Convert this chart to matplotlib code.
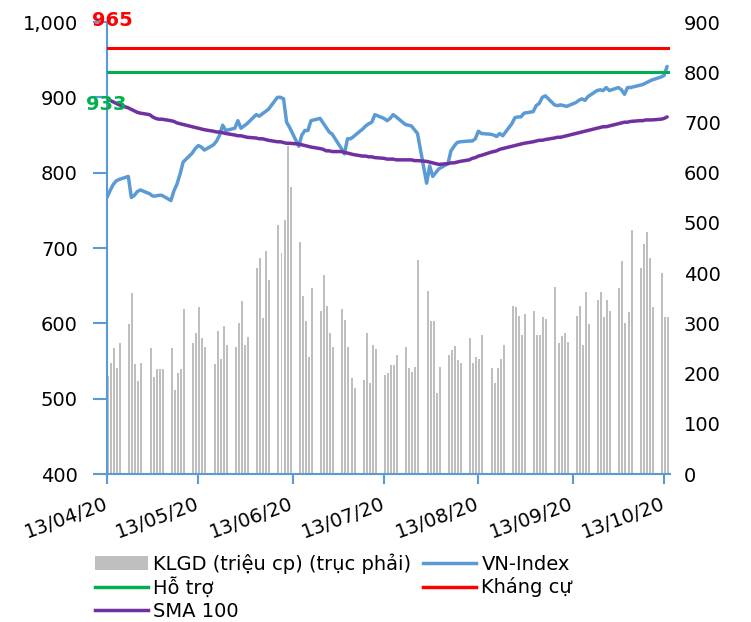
import matplotlib
matplotlib.use("Agg")
import matplotlib.pyplot as plt
from matplotlib.patches import Patch
from matplotlib.lines import Line2D
from matplotlib.ticker import FuncFormatter, FixedLocator
import pandas as pd

plt.rcParams['font.family'] = ['DejaVu Sans']

# ---------------- data ----------------
start_date = "2020-04-13"
end_date = "2020-10-14"
dates = pd.bdate_range(start_date, end_date)

volume = [196, 222, 250, 212, 260,
          299, 360, 219, 185, 222,
          250, 193, 209, 209, 209,
          250, 167, 202, 209, 329,
          260, 281, 332, 270, 252,
          219, 284, 229, 294, 257,
          252, 301, 345, 257, 273,
          410, 431, 311, 445, 387,
          496, 441, 506, 654, 571,
          461, 355, 304, 232, 370,
          325, 397, 335, 280, 252,
          329, 307, 252, 191, 171,
          188, 280, 181, 257, 249,
          198, 201, 218, 218, 236,
          252, 212, 204, 214, 427,
          365, 304, 304, 161, 214,
          236, 247, 255, 226, 222,
          270, 222, 232, 229, 277,
          212, 181, 212, 229, 257,
          335, 332, 315, 277, 319,
          325, 277, 277, 312, 308,
          373, 260, 274, 281, 263,
          315, 335, 257, 363, 298,
          346, 363, 312, 346, 325,
          370, 425, 301, 322, 486,
          410, 458, 482, 431, 332,
          400, 312, 312]

vn_index = [767, 776, 784, 789, 791,
            795, 767, 770, 775, 777,
            772, 769, 769, 770, 770,
            763, 776, 785, 798, 814,
            826, 832, 836, 834, 830,
            837, 842, 850, 863, 856,
            859, 869, 859, 862, 865,
            877, 875, 878, 881, 884,
            900, 900, 898, 867, 860,
            835, 850, 856, 856, 869,
            872, 866, 860, 854, 851,
            832, 825, 845, 845, 848,
            858, 862, 865, 867, 877,
            872, 869, 872, 877, 874,
            864, 863, 862, 857, 852,
            786, 809, 795, 800, 805,
            812, 829, 835, 840, 841,
            842, 842, 845, 855, 852,
            851, 850, 848, 852, 849,
            865, 873, 874, 874, 879,
            881, 889, 892, 900, 902,
            890, 889, 890, 889, 888,
            893, 896, 898, 896, 901,
            909, 910, 909, 913, 909,
            913, 910, 904, 913, 913,
            916, 917, 919, 921, 923,
            927, 929, 941]

sma100 = [898, 896, 894, 892, 890,
          886, 884, 882, 880, 879,
          877, 874, 872, 871, 871,
          869, 868, 866, 865, 864,
          861, 860, 859, 858, 857,
          855, 854, 854, 853, 852,
          850, 849, 849, 848, 847,
          846, 845, 845, 844, 843,
          841, 841, 840, 839, 839,
          838, 837, 836, 835, 834,
          832, 831, 829, 829, 828,
          828, 827, 826, 825, 824,
          822, 822, 821, 821, 820,
          819, 818, 818, 818, 817,
          817, 817, 817, 816, 816,
          815, 814, 813, 812, 811,
          812, 813, 813, 814, 815,
          817, 819, 820, 822, 823,
          827, 828, 829, 831, 832,
          835, 836, 837, 838, 839,
          841, 842, 843, 843, 844,
          846, 847, 847, 848, 849,
          852, 853, 854, 855, 856,
          859, 860, 861, 861, 862,
          865, 866, 867, 867, 868,
          869, 869, 870, 870, 870,
          871, 872, 874]

support = 933
resistance = 965

left_ticks = [400, 500, 600, 700, 800, 900, 1000]
right_ticks = [0, 100, 200, 300, 400, 500, 600, 700, 800, 900]
x_tick_dates = ["2020-04-13", "2020-05-13", "2020-06-13", "2020-07-13",
                "2020-08-13", "2020-09-13", "2020-10-13"]
x_tick_labels = ["13/04/20", "13/05/20", "13/06/20", "13/07/20",
                 "13/08/20", "13/09/20", "13/10/20"]

labels = ["KLGD (triệu cp) (trục phải)", "VN-Index", "Hỗ trợ", "Kháng cự", "SMA 100"]

# ---------------- styles ----------------
C_BAR = "#BFBFBF"
C_VN = "#5B9BD5"
C_SUP = "#00B050"
C_RES = "#FF0000"
C_SMA = "#7030A0"
C_AXIS = "#5B9BD5"
FS = 14

fig = plt.figure(figsize=(7.51, 6.22), dpi=100)
ax = fig.add_axes([107/751, 1-474/622, (670-107)/751, (474-22)/622])
ax2 = ax.twinx()
ax.set_zorder(ax2.get_zorder() + 1)
ax.patch.set_visible(False)

# bars on right axis
ax2.bar(dates, volume, width=0.65, align='edge', color=C_BAR, linewidth=0)
ax2.set_ylim(0, 900)
ax2.yaxis.set_major_locator(FixedLocator(right_ticks))
ax2.tick_params(axis='y', length=0, pad=10, labelsize=FS)

# lines on left axis
ax.plot(dates, vn_index, color=C_VN, lw=2.5, zorder=3, solid_capstyle='round')
ax.axhline(support, color=C_SUP, lw=2.2, zorder=4)
ax.axhline(resistance, color=C_RES, lw=2.2, zorder=4)
ax.plot(dates, sma100, color=C_SMA, lw=2.5, zorder=5, solid_capstyle='round')

ax.set_ylim(400, 1000)
ax.yaxis.set_major_locator(FixedLocator(left_ticks))
ax.yaxis.set_major_formatter(FuncFormatter(lambda v, p: f"{v:,.0f}"))

x0 = pd.Timestamp("2020-04-13")
x1 = pd.Timestamp("2020-10-13") + pd.Timedelta(days=1.95)
ax.set_xlim(x0, x1)
ax2.set_xlim(x0, x1)

ax.set_xticks(pd.to_datetime(x_tick_dates))
ax.set_xticklabels(x_tick_labels)
ax.tick_params(axis='x', length=7, width=1.5, color=C_AXIS, pad=14, labelsize=FS)
ax.tick_params(axis='y', length=10, width=1.5, color=C_AXIS, pad=11, labelsize=FS)
plt.setp(ax.get_xticklabels(), rotation=20, ha='right', va='center', rotation_mode='anchor')

for a in (ax, ax2):
    for s in ('top', 'right'):
        a.spines[s].set_visible(False)
ax2.spines['left'].set_visible(False)
ax2.spines['bottom'].set_visible(False)
ax.spines['left'].set_color(C_AXIS)
ax.spines['bottom'].set_color(C_AXIS)
ax.spines['left'].set_linewidth(1.5)
ax.spines['bottom'].set_linewidth(1.5)

# value labels for support / resistance
ax.text(0.009, resistance + 37, f"{resistance}", transform=ax.get_yaxis_transform(),
        color=C_RES, fontsize=FS, fontweight='bold', ha='center', va='center', zorder=6)
ax.text(-0.002, support - 42, f"{support}", transform=ax.get_yaxis_transform(),
        color=C_SUP, fontsize=FS, fontweight='bold', ha='center', va='center', zorder=6,
        clip_on=False)

# legend (column-major order for ncol=2)
h_bar = Patch(facecolor=C_BAR, edgecolor='none')
h_vn = Line2D([], [], color=C_VN, lw=2.5)
h_sup = Line2D([], [], color=C_SUP, lw=2.5)
h_res = Line2D([], [], color=C_RES, lw=2.5)
h_sma = Line2D([], [], color=C_SMA, lw=2.5)
leg = fig.legend([h_bar, h_sup, h_sma, h_vn, h_res],
                 [labels[0], labels[2], labels[4], labels[1], labels[3]],
                 ncol=2, loc='upper left', bbox_to_anchor=(95/751, 1-553/622),
                 frameon=False, fontsize=FS, handlelength=2.7, handletextpad=0.3,
                 columnspacing=0.6, labelspacing=0.2, borderpad=0, borderaxespad=0)

fig.savefig("out.png", dpi=100)
